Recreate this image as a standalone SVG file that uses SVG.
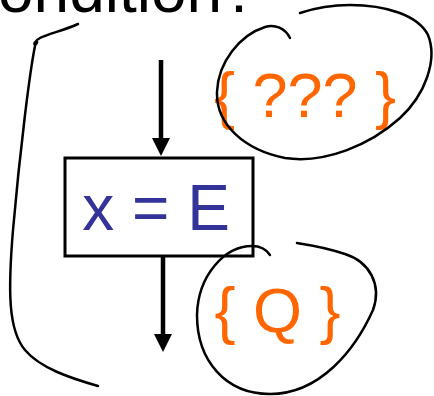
<svg xmlns="http://www.w3.org/2000/svg" width="434" height="396" viewBox="0 0 434 396">
  <defs>
    <style>
      .title { font-family: "Liberation Sans", Arial, sans-serif; font-size: 64px; fill: #000; }
      .code { font-family: "Liberation Sans", Arial, sans-serif; font-size: 64px; fill: #333399; }
      .cond { font-family: "Liberation Sans", Arial, sans-serif; font-size: 63px; fill: #FF6600; }
      .box { fill: #fff; stroke: #000; stroke-width: 3; }
      .ink { fill: none; stroke: #000; stroke-width: 2.5; stroke-linecap: round; stroke-linejoin: round; }
      .edge { stroke: #000; stroke-width: 4.5; fill: none; }
    </style>
    <marker id="arrow" markerUnits="userSpaceOnUse" markerWidth="18" markerHeight="18" refX="0" refY="9" orient="auto" viewBox="0 0 18 18">
      <path d="M0,0 L18,9 L0,18 Z" fill="#000"/>
    </marker>
  </defs>
  <rect width="434" height="396" fill="#fff"/>

  <text class="title" x="-34" y="12">condition?</text>

  <g id="connectors">
    <line class="edge" x1="161" y1="60" x2="161" y2="138" marker-end="url(#arrow)"/>
    <line class="edge" x1="163" y1="256" x2="163" y2="334" marker-end="url(#arrow)"/>
  </g>

  <g id="assign">
    <rect class="box" x="65" y="158" width="188" height="98"/>
    <text class="code" x="156" y="230" text-anchor="middle">x = E</text>
  </g>

  <g id="precondition">
    <text class="cond" x="305" y="117" text-anchor="middle">{ ??? }</text>
    <path class="ink" d="M290,38 C285,28 275,24 265,27 C240,35 218,62 217,92 C216,125 245,150 285,158 C325,164 370,145 400,118 C425,95 438,60 428,35 C418,15 385,5 350,5 C330,5 312,9 300,13"/>
  </g>

  <g id="postcondition">
    <text class="cond" x="277.5" y="332" text-anchor="middle">{ Q }</text>
    <path class="ink" d="M270,255 C266,249 260,246 252,246 C225,246 198,275 197,315 C197,360 225,394 270,394 C320,394 355,350 373,310 C382,285 370,262 345,254 C325,247 310,245 297,243"/>
  </g>

  <g id="bracket">
    <path class="ink" d="M78,24 C65,30 48,34 40,38 C34,41 33,46 36,44 C38,42 37,40 35,46 C30,70 20,150 13,230 C8,290 8,330 25,350 C40,368 70,378 98,386"/>
  </g>
</svg>
